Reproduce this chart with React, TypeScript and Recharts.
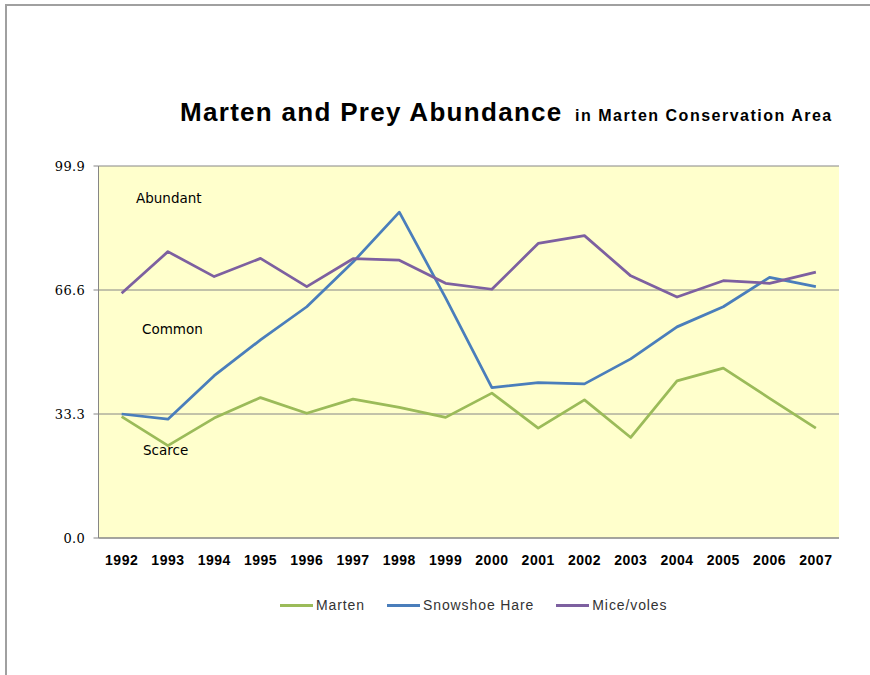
import { LineChart, Line, XAxis, YAxis, CartesianGrid } from "recharts";

// Survey years and relative abundance index per species.
const YEARS = [1992, 1993, 1994, 1995, 1996, 1997, 1998, 1999, 2000, 2001, 2002, 2003, 2004, 2005, 2006, 2007];
const MARTEN = [32.6, 24.8, 32.2, 37.7, 33.5, 37.3, 35.1, 32.4, 38.9, 29.5, 37.1, 27.0, 42.2, 45.6, 37.5, 29.5];
const HARE = [33.3, 31.9, 43.6, 53.2, 62.1, 74.1, 87.5, 64.5, 40.4, 41.7, 41.4, 48.1, 56.7, 62.1, 70.0, 67.5];
const MICE = [65.7, 76.9, 70.2, 75.1, 67.5, 75.0, 74.6, 68.4, 66.8, 79.1, 81.2, 70.4, 64.7, 69.1, 68.4, 71.4];
const Y_TICKS = [0, 33.3, 66.6, 99.9];
const ZONES = ["Abundant", "Common", "Scarce"];

const SERIES = [
  { key: "marten", name: "Marten", color: "#9BBB59" },
  { key: "hare", name: "Snowshoe Hare", color: "#4A7EBB" },
  { key: "mice", name: "Mice/voles", color: "#7D60A0" },
];

const data = YEARS.map((year, i) => ({ year, marten: MARTEN[i], hare: HARE[i], mice: MICE[i] }));
const DOMAIN: [number, number] = [YEARS[0] - 0.5, YEARS[YEARS.length - 1] + 0.5];
// Excel-style category ticks sit between the years.
const BOUNDS = [...YEARS.map((y) => y - 0.5), YEARS[YEARS.length - 1] + 0.5];

const AXIS = "#868686";
const SANS = "'Liberation Sans', Arial, sans-serif";

function Legend() {
  return (
    <div style={{ position: "absolute", left: 280, top: 595, display: "flex", alignItems: "center", fontFamily: SANS, fontSize: 14, letterSpacing: 0.9, color: "#333", lineHeight: "20px" }}>
      {SERIES.map((s, i) => (
        <div key={s.key} style={{ display: "flex", alignItems: "center", marginLeft: i ? 22 : 0 }}>
          <span style={{ display: "inline-block", width: 33, height: 3, background: s.color, marginRight: 3 }} />
          <span>{s.name}</span>
        </div>
      ))}
    </div>
  );
}

export default function App() {
  return (
    <div style={{ position: "fixed", left: 0, top: 0, width: 870, height: 675, background: "#fff", overflow: "hidden" }}>
      {/* slide frame: only its top and left edges fall inside the picture */}
      <div style={{ position: "absolute", left: 5, top: 4, width: 865, height: 671, borderTop: "2px solid #a0a0a0", borderLeft: "2px solid #a0a0a0", boxSizing: "border-box" }} />
      <LineChart width={870} height={675} data={data} margin={{ top: 166, right: 31, bottom: 135, left: 0 }}>
        <CartesianGrid xAxisId="years" vertical={false} stroke={AXIS} fill="#FFFFCC" fillOpacity={1} />
        <XAxis xAxisId="bounds" dataKey="year" type="number" domain={DOMAIN} ticks={BOUNDS} interval={0}
          tick={false} tickSize={5} height={1} stroke={AXIS} />
        <XAxis xAxisId="years" dataKey="year" type="number" domain={DOMAIN} ticks={YEARS} interval={0}
          axisLine={false} tickLine={false} tickSize={0} tickMargin={16} height={1}
          tick={{ fill: "#000", fontSize: 14, fontWeight: 700, fontFamily: SANS, letterSpacing: 0.5 }} />
        <YAxis domain={[0, 99.9]} ticks={Y_TICKS} interval={0} width={98.5} tickSize={5} tickMargin={8.5}
          stroke={AXIS} tickFormatter={(v: number) => v.toFixed(1)}
          tick={{ fill: "#000", fontSize: 13, fontFamily: "'DejaVu Serif', serif", letterSpacing: 0.3 }} />
        {SERIES.map((s) => (
          <Line key={s.key} xAxisId="years" type="linear" dataKey={s.key} name={s.name} stroke={s.color}
            strokeWidth={2.75} strokeLinejoin="round" dot={false} activeDot={false} isAnimationActive={false} />
        ))}
      </LineChart>
      <svg width={870} height={675} style={{ position: "absolute", left: 0, top: 0, pointerEvents: "none" }}>
        <text x={180} y={121} fontFamily={SANS} fontWeight={700} fill="#000">
          <tspan fontSize={26} letterSpacing={1.3}>Marten and Prey Abundance</tspan>
          <tspan x={575} fontSize={16} letterSpacing={1.5}>in Marten Conservation Area</tspan>
        </text>
        <g fontFamily="'DejaVu Sans', Verdana, sans-serif" fontSize={13.5} fill="#000">
          <text x={136} y={203}>{ZONES[0]}</text>
          <text x={142} y={334}>{ZONES[1]}</text>
          <text x={143} y={455}>{ZONES[2]}</text>
        </g>
      </svg>
      <Legend />
    </div>
  );
}
